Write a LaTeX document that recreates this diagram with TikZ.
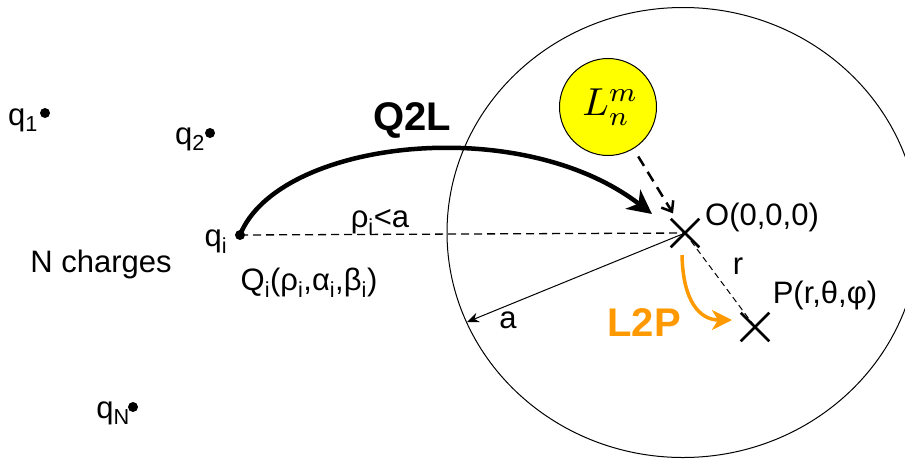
\documentclass[tikz,border=0pt]{standalone}
\usepackage{fontspec}
\setmainfont{Liberation Sans}
\usetikzlibrary{arrows.meta,shapes.misc}
\definecolor{lorange}{RGB}{255,153,0}
\definecolor{lyellow}{RGB}{255,255,0}
\newcommand\sbs[1]{\textsubscript{#1}}
\begin{document}
\begin{tikzpicture}[x=1pt,y=-1pt,
  lbl/.style={inner sep=0pt, font=\fontsize{31}{36}\selectfont},
  biglbl/.style={inner sep=0pt, font=\fontsize{40}{46}\selectfont\bfseries},
  dot/.style={circle, fill=black, inner sep=0pt, minimum size=10pt},
  xmark/.style={cross out, draw, line width=2.5pt, inner sep=0pt, minimum size=26pt},
  thinline/.style={line width=1pt},
  ]
\useasboundingbox (0,0) rectangle (905,459);
\clip (0,0) rectangle (905,459);
% big sphere
\draw[thinline] (683,232.5) ellipse [x radius=236pt, y radius=225pt];
% charges
\node[dot] (q1) at (45,113) {};
\node[dot] (q2) at (210,133) {};
\node[dot] (qN) at (133,407) {};
\node[dot] (qi) at (240,235) {};
\node[lbl] (q1l) at (23,120) {q\sbs{1}};
\node[lbl] (q2l) at (190,139) {q\sbs{2}};
\node[lbl] (qNl) at (113,413) {q\sbs{N}};
\node[lbl] (qil) at (216,242) {q\sbs{i}};
\node[lbl] (Nch) at (101,264) {N charges};
% points
\node[xmark] (O) at (685,233) {};
\node[xmark] (P) at (755,327) {};
\node[lbl] (Ol) at (762,217) {O(0,0,0)};
\node[lbl] (Pl) at (825,295) {P(r,θ,φ)};
\node[lbl] (rl) at (738,266) {r};
\node[lbl] (rhol) at (380,222) {ρ\sbs{i}<a};
\node[lbl] (Qil) at (309,283) {Q\sbs{i}(ρ\sbs{i},α\sbs{i},β\sbs{i})};
\node[lbl] (al) at (508,320) {a};
% local expansion
\node[circle, draw, thinline, fill=lyellow, minimum size=97pt, inner sep=0pt] (L) at (608,107) {\raisebox{-3pt}{\hspace*{5pt}\scalebox{3.9}{$L_n^m$}}};
% lines
\draw[line width=1.3pt, dash pattern=on 8pt off 5pt] (qi.center) -- (O.center);
\draw[line width=1pt, dash pattern=on 6pt off 4pt] (O.center) -- (P.center);
\coordinate (aedge) at (467,322);
\draw[thinline, -{Stealth[length=12pt,width=10pt]}] (O.center) -- (aedge);
% Q2L
\coordinate (q2lend) at (652,214);
\draw[line width=4.5pt, -{Stealth[length=24pt,width=24pt,inset=7pt]}] (qi.center) .. controls (278,140) and (520,112) .. (q2lend);
\node[biglbl] (Q2L) at (412,120) {Q2L};
% L to O
\draw[line width=2.5pt, dash pattern=on 11pt off 7pt, shorten <=9pt, shorten >=23pt, -{Straight Barb[length=9pt,width=14pt]}] (L) -- (O.center);
% L2P
\coordinate (l2ps) at (682,255);
\coordinate (l2pe) at (732,320);
\draw[lorange, line width=3.5pt, -{Stealth[length=20pt,width=20pt,inset=6pt]}] (l2ps) .. controls (683,302) and (700,320) .. (l2pe);
\node[biglbl, text=lorange] (L2P) at (644,323) {L2P};
\end{tikzpicture}
\end{document}
